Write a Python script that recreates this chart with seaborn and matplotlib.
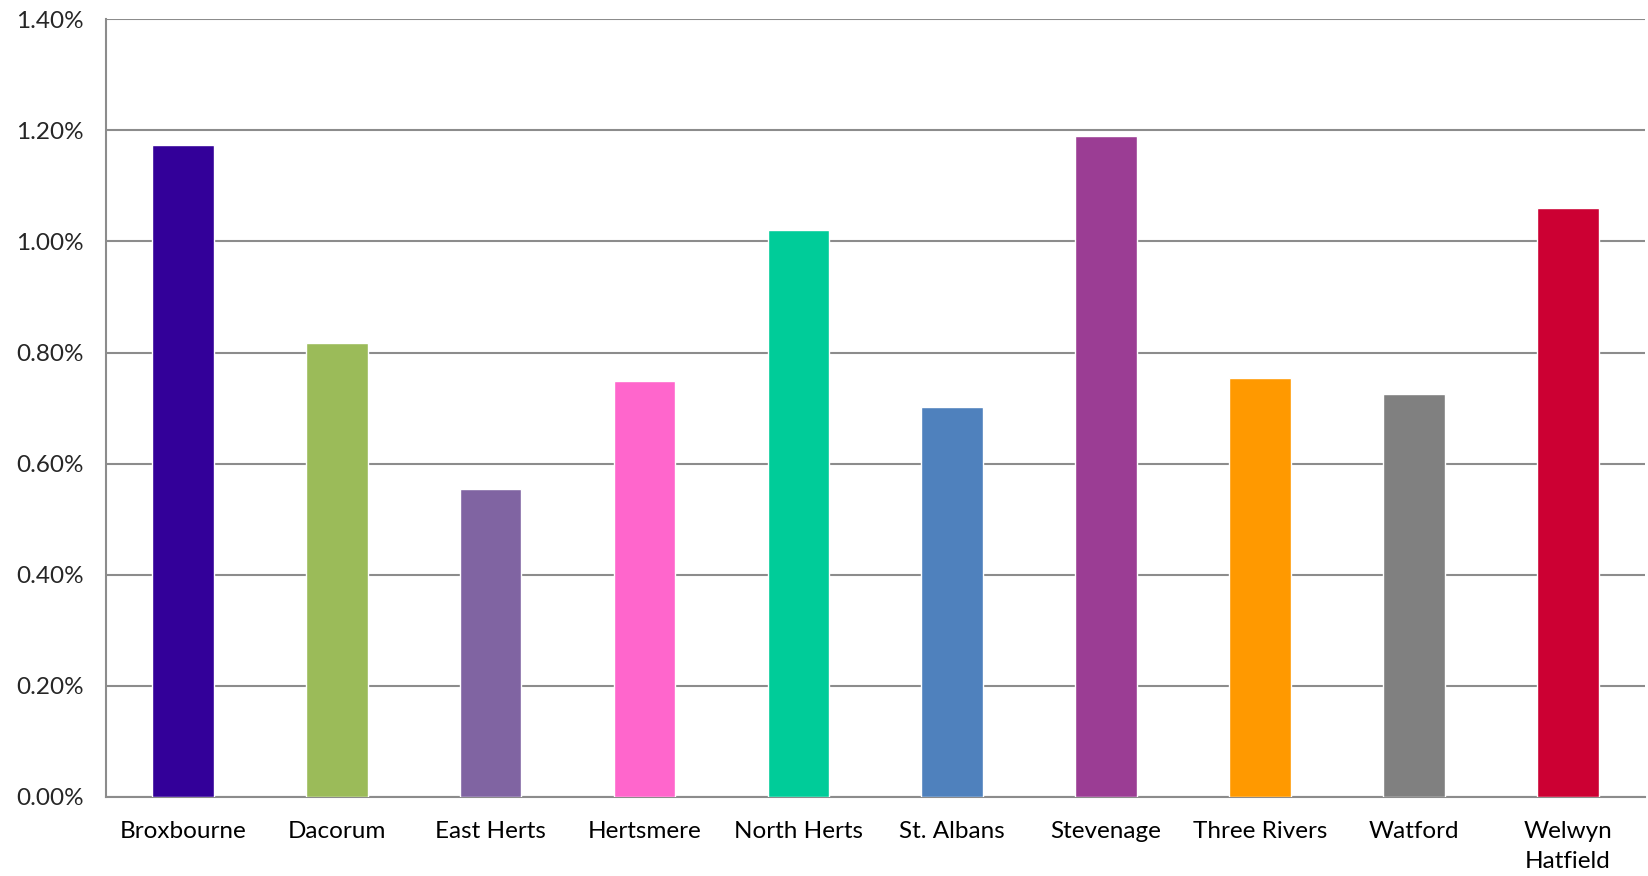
import matplotlib
matplotlib.use("Agg")
import matplotlib.pyplot as plt
from matplotlib.ticker import FuncFormatter, FixedLocator
import seaborn as sns
import pandas as pd
import numpy as np

# data (percent)
districts = ["Broxbourne", "Dacorum", "East Herts", "Hertsmere", "North Herts",
             "St. Albans", "Stevenage", "Three Rivers", "Watford", "Welwyn\nHatfield"]
rates = [1.174, 0.818, 0.554, 0.749, 1.021, 0.702, 1.189, 0.754, 0.725, 1.061]
bar_colors = ["#330099", "#9BBB59", "#8064A2", "#FF66CC", "#00CC99",
              "#4F81BD", "#9B3D94", "#FF9900", "#808080", "#CC0033"]

df = pd.DataFrame({"district": districts, "rate": rates})

sns.set_style("white")
plt.rcParams['font.family'] = ['Lato', 'DejaVu Sans']

fig = plt.figure(figsize=(16.48, 8.76), dpi=100)
ax = fig.add_axes([0.0643, 0.0902, 0.9337, 0.8878])

sns.barplot(data=df, x="district", y="rate", hue="district",
            palette=bar_colors, width=0.4, legend=False, ax=ax,
            saturation=1, zorder=3)

ax.set_ylim(0, 1.4)
ax.set_xlim(-0.5, len(districts) - 0.5)
ax.yaxis.set_major_locator(FixedLocator(np.arange(0, 1.41, 0.2)))
ax.yaxis.set_major_formatter(FuncFormatter(lambda v, p: "%.2f%%" % v))
ax.grid(axis="y", color="#8c8c8c", linewidth=1.5, zorder=0)
ax.set_axisbelow(True)

# ticks between categories, labels under bars
ax.xaxis.set_minor_locator(FixedLocator(np.arange(-0.5, len(districts), 1.0)))
ax.tick_params(axis="x", which="major", length=0, pad=17, labelsize=17.5, colors="black")
ax.tick_params(axis="x", which="minor", length=9, width=1.5, color="#8c8c8c")
ax.tick_params(axis="y", which="major", length=8, width=1.5, color="#8c8c8c",
               labelsize=17.5, pad=8)
for lbl in ax.get_xticklabels():
    lbl.set_linespacing(1.55)

for s in ["top", "right"]:
    ax.spines[s].set_visible(False)
for s in ["left", "bottom"]:
    ax.spines[s].set_color("#8c8c8c")
    ax.spines[s].set_linewidth(1.5)

ax.set_xlabel("")
ax.set_ylabel("")

fig.savefig("out.png", dpi=100)
